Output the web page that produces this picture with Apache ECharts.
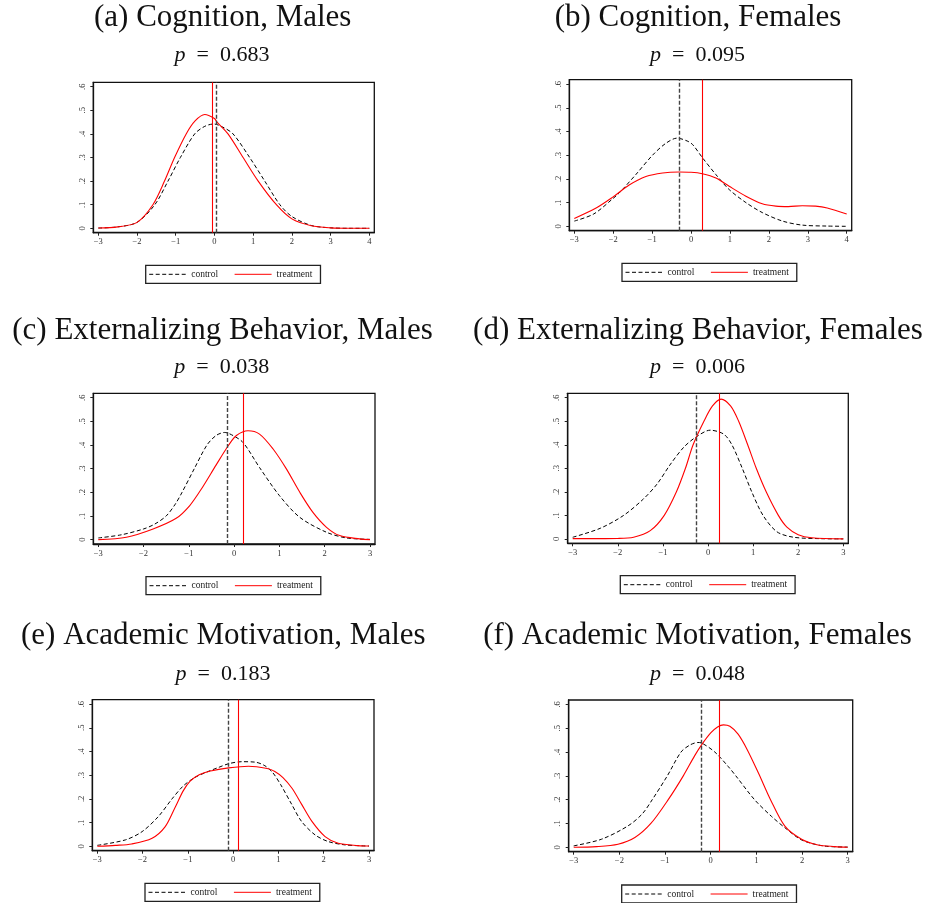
<!DOCTYPE html>
<html><head><meta charset="utf-8">
<script src="https://cdn.jsdelivr.net/npm/echarts@6/dist/echarts.min.js"></script>
<style>html,body{margin:0;padding:0;background:#fff}#c{width:930px;height:903px}</style>
</head><body><div id="c"></div>
<script>
// ---------- data ----------
const titles = ['(a) Cognition, Males','(b) Cognition, Females','(c) Externalizing Behavior, Males','(d) Externalizing Behavior, Females','(e) Academic Motivation, Males','(f) Academic Motivation, Females'];
const pValues = ['0.683','0.095','0.038','0.006','0.183','0.048'];
const seriesNames = ['control','treatment'];
const xTicksWide = [-3,-2,-1,0,1,2,3,4];
const xTicksNarrow = [-3,-2,-1,0,1,2,3];
const yTicks = [0,0.1,0.2,0.3,0.4,0.5,0.6];
const controlMeans = [0.04,-0.305,-0.157,-0.273,-0.096,-0.197];
const treatmentMeans = [-0.054,0.29,0.2,0.26,0.11,0.19];

const controlA = [[-3,0.001],[-2.5,0.006],[-2,0.025],[-1.54,0.1],[-1.2,0.2],[-0.88,0.3],[-0.51,0.4],[-0.25,0.432],[-0.02,0.442],[0.2,0.43],[0.48,0.4],[0.91,0.3],[1.3,0.2],[1.69,0.1],[2,0.05],[2.5,0.012],[3,0.002],[3.5,0],[4,0]];
const treatmentA = [[-3,0.001],[-2.5,0.006],[-2,0.025],[-1.59,0.1],[-1.29,0.2],[-1.03,0.3],[-0.73,0.4],[-0.5,0.455],[-0.25,0.482],[0,0.465],[0.066,0.45],[0.35,0.4],[0.74,0.3],[1.13,0.2],[1.6,0.1],[2,0.04],[2.5,0.011],[3,0.002],[3.5,0],[4,0]];
const controlB = [[-3,0.022],[-2.5,0.052],[-2,0.118],[-1.85,0.14],[-1.42,0.218],[-0.99,0.3],[-0.65,0.35],[-0.36,0.372],[-0.1,0.36],[0.04,0.345],[0.29,0.29],[0.64,0.218],[0.98,0.155],[1.41,0.1],[1.83,0.058],[2.35,0.022],[2.86,0.005],[3.5,0.001],[4,0]];
const treatmentB = [[-3,0.033],[-2.44,0.077],[-2.02,0.122],[-1.59,0.174],[-1.16,0.21],[-0.73,0.225],[-0.31,0.229],[0,0.228],[0.29,0.222],[0.64,0.204],[0.98,0.169],[1.41,0.127],[1.83,0.095],[2.18,0.085],[2.5,0.083],[2.86,0.087],[3.2,0.085],[3.5,0.077],[4,0.052]];
const controlC = [[-3,0.007],[-2.5,0.02],[-2,0.045],[-1.75,0.066],[-1.5,0.1],[-1.3,0.15],[-1.15,0.2],[-0.88,0.3],[-0.6,0.4],[-0.4,0.44],[-0.21,0.453],[-0.025,0.44],[0.2,0.41],[0.56,0.305],[1.0,0.186],[1.45,0.094],[2.04,0.031],[2.48,0.007],[3,0.001]];
const treatmentC = [[-3,0],[-2.38,0.01],[-1.79,0.045],[-1.28,0.09],[-0.98,0.144],[-0.72,0.215],[-0.4,0.315],[-0.12,0.4],[0.05,0.44],[0.306,0.46],[0.56,0.446],[0.86,0.383],[1.15,0.3],[1.45,0.2],[1.74,0.115],[2.04,0.052],[2.33,0.017],[2.77,0.003],[3,0]];
const controlD = [[-3,0.007],[-2.39,0.045],[-1.87,0.1],[-1.43,0.17],[-1.13,0.233],[-0.83,0.318],[-0.54,0.389],[-0.28,0.431],[0.05,0.462],[0.35,0.445],[0.53,0.4],[0.76,0.3],[0.97,0.2],[1.22,0.1],[1.53,0.03],[1.9,0.007],[2.5,0.001],[3,0]];
const treatmentD = [[-3,0.001],[-2,0.002],[-1.65,0.007],[-1.28,0.035],[-0.97,0.1],[-0.7,0.2],[-0.5,0.3],[-0.33,0.4],[-0.09,0.5],[0.1,0.565],[0.29,0.594],[0.5,0.565],[0.68,0.5],[0.88,0.4],[1.07,0.3],[1.29,0.2],[1.56,0.1],[1.75,0.05],[2,0.018],[2.3,0.005],[3,0]];
const controlE = [[-3,0.004],[-2.38,0.027],[-2.01,0.062],[-1.65,0.126],[-1.35,0.2],[-1.1,0.255],[-0.85,0.29],[-0.6,0.312],[-0.32,0.333],[-0.09,0.349],[0.19,0.357],[0.49,0.355],[0.7,0.34],[0.87,0.312],[1.05,0.26],[1.29,0.178],[1.51,0.105],[1.81,0.048],[2.1,0.02],[2.47,0.006],[3,0.001]];
const treatmentE = [[-3,0],[-2.6,0.004],[-2.24,0.01],[-1.79,0.034],[-1.5,0.083],[-1.28,0.165],[-1.1,0.235],[-0.95,0.275],[-0.75,0.302],[-0.5,0.318],[-0.1,0.331],[0.34,0.338],[0.75,0.328],[0.92,0.316],[1.1,0.29],[1.3,0.245],[1.51,0.178],[1.74,0.105],[2.03,0.041],[2.32,0.013],[2.76,0.003],[3,0.001]];
const controlF = [[-3,0.006],[-2.39,0.034],[-1.81,0.09],[-1.5,0.14],[-1.28,0.2],[-0.95,0.3],[-0.65,0.4],[-0.45,0.43],[-0.28,0.44],[-0.2,0.438],[0.09,0.4],[0.38,0.34],[0.55,0.3],[0.96,0.2],[1.33,0.13],[1.62,0.083],[2.0,0.03],[2.5,0.005],[3,0.001]];
const treatmentF = [[-3,0],[-2.5,0.003],[-2.03,0.013],[-1.66,0.041],[-1.31,0.1],[-0.93,0.2],[-0.6,0.3],[-0.35,0.385],[-0.2,0.43],[0,0.48],[0.15,0.505],[0.28,0.514],[0.42,0.508],[0.6,0.475],[0.8,0.41],[1.05,0.31],[1.31,0.2],[1.62,0.09],[1.99,0.034],[2.35,0.01],[2.72,0.003],[3,0]];

const controlData = [controlA,controlB,controlC,controlD,controlE,controlF];
const treatmentData = [treatmentA,treatmentB,treatmentC,treatmentD,treatmentE,treatmentF];
const xTickSets = [xTicksWide,xTicksWide,xTicksNarrow,xTicksNarrow,xTicksNarrow,xTicksNarrow];

// ---------- layout (pixels) ----------
const boxes = [
  {l:93.3,t:82.3,w:281,h:150.4},
  {l:569.3,t:79.7,w:282.4,h:151},
  {l:93.3,t:393.3,w:281.7,h:150.7},
  {l:567.7,t:393.3,w:280.6,h:150},
  {l:92.3,t:699.7,w:281.7,h:151},
  {l:568.7,t:700,w:284,h:151.7}
];
const titlePos = [[222.7,18],[698,18],[222.5,331],[698,331],[223.3,636],[697.5,636]];
const pPos = [[222,55],[697.5,55],[221.7,367],[697.5,367],[223,674.5],[697.5,674.5]];
const legendPos = [[145.7,265.3],[622,263.3],[146,576.7],[620.3,575.7],[145,883.3],[621.7,885]];
const XPAD = 5, YPAD = 4.4;
const SERIF = 'Liberation Serif';

const grid=[], xAxis=[], yAxis=[], series=[], legend=[], graphic=[];
boxes.forEach((b,i)=>{
  const xt = xTickSets[i];
  const lo = xt[0], hi = xt[xt.length-1];
  const xp = XPAD*(hi-lo)/(b.w-2*XPAD);
  const ylo = yTicks[0], yhi = yTicks[yTicks.length-1];
  const yp = YPAD*(yhi-ylo)/(b.h-2*YPAD);
  grid.push({left:b.l, top:b.t, width:b.w, height:b.h, show:true, borderColor:'#111', borderWidth:1.3, containLabel:false});
  xAxis.push({gridIndex:i, type:'value', min:lo-xp, max:hi+xp,
    axisLine:{show:true, onZero:false, lineStyle:{color:'#111', width:1.3}},
    axisTick:{show:true, length:3, customValues:xt, lineStyle:{color:'#222', width:1}},
    axisLabel:{customValues:xt, margin:5, fontFamily:SERIF, fontSize:8.5, color:'#333',
      formatter:v=>(v<0?'\u2212'+Math.abs(v):String(v))},
    splitLine:{show:false}});
  yAxis.push({gridIndex:i, type:'value', min:ylo-yp, max:yhi+yp,
    axisLine:{show:true, onZero:false, lineStyle:{color:'#111', width:1.3}},
    axisTick:{show:true, length:3, customValues:yTicks, lineStyle:{color:'#222', width:1}},
    axisLabel:{customValues:yTicks, rotate:90, margin:6, fontFamily:SERIF, fontSize:8.5, color:'#333',
      formatter:v=>(Math.abs(v)<1e-9?'0':'.'+Math.round(v*10))},
    splitLine:{show:false}});
  series.push({name:seriesNames[0], type:'line', xAxisIndex:i, yAxisIndex:i, data:controlData[i],
    smooth:0.3, symbol:'none', showSymbol:false,
    lineStyle:{color:'#000', width:1, type:[4,2.5]}, itemStyle:{color:'#000'},
    markLine:{silent:true, symbol:['none','none'], label:{show:false}, animation:false,
      lineStyle:{color:'#444', width:1.4, type:[4,2]}, data:[{xAxis:controlMeans[i]}]}});
  series.push({name:seriesNames[1], type:'line', xAxisIndex:i, yAxisIndex:i, data:treatmentData[i],
    smooth:0.3, symbol:'none', showSymbol:false,
    lineStyle:{color:'#ff0000', width:1.1, type:'solid'}, itemStyle:{color:'#ff0000'},
    markLine:{silent:true, symbol:['none','none'], label:{show:false}, animation:false,
      lineStyle:{color:'#ff0000', width:1.1, type:'solid'}, data:[{xAxis:treatmentMeans[i]}]}});
  legend.push({left:legendPos[i][0], top:legendPos[i][1], data:seriesNames, selectedMode:false,
    itemWidth:37, itemHeight:9, itemGap:16, padding:[4,8,4,3], borderColor:'#222', borderWidth:1.3,
    itemStyle:{color:'rgba(0,0,0,0)', borderColor:'rgba(0,0,0,0)', borderWidth:0, opacity:0},
    lineStyle:{width:1},
    textStyle:{fontFamily:SERIF, fontSize:9.5, color:'#222'}});
  graphic.push({type:'text', x:titlePos[i][0], y:titlePos[i][1], silent:true,
    style:{text:titles[i], font:'31px "'+SERIF+'"', fill:'#111', align:'center', verticalAlign:'middle', textAlign:'center', textVerticalAlign:'middle'}});
  graphic.push({type:'text', x:pPos[i][0], y:pPos[i][1], silent:true,
    style:{text:'{i|p}{n|\u2002=\u2002'+pValues[i]+'}', fill:'#111', align:'center', verticalAlign:'middle', textAlign:'center', textVerticalAlign:'middle',
      font:'22px "'+SERIF+'"',
      rich:{i:{fontStyle:'italic', fontFamily:SERIF, fontSize:22, fill:'#111'}, n:{fontFamily:SERIF, fontSize:22, fill:'#111'}}}});
});

const chart = echarts.init(document.getElementById('c'), null, {renderer:'canvas'});
chart.setOption({animation:false, backgroundColor:'#fff', grid, xAxis, yAxis, series, legend, graphic});
</script></body></html>
